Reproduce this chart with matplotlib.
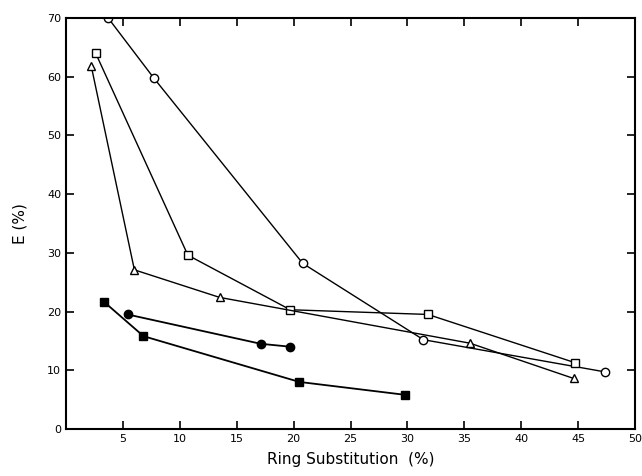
import numpy as np
import matplotlib.pyplot as plt

# open circles
x_oc = [3.7, 7.7, 20.8, 31.4, 47.4]
y_oc = [70.0, 59.8, 28.2, 15.2, 9.7]
# open squares
x_os = [2.6, 10.7, 19.7, 31.8, 44.7]
y_os = [64.0, 29.6, 20.3, 19.5, 11.3]
# open triangles
x_ot = [2.2, 6.0, 13.5, 35.5, 44.6]
y_ot = [61.9, 27.1, 22.4, 14.6, 8.6]
# filled circles
x_fc = [5.4, 17.1, 19.7]
y_fc = [19.5, 14.5, 14.0]
# filled squares
x_fs = [3.3, 6.8, 20.5, 29.8]
y_fs = [21.7, 15.8, 8.0, 5.8]

fig = plt.figure(figsize=(6.42, 4.76), dpi=100)
ax = fig.add_axes([0.103, 0.099, 0.886, 0.863])

ax.plot(x_oc, y_oc, 'k-', marker='o', mfc='white', mec='k', ms=6, lw=1)
ax.plot(x_os, y_os, 'k-', marker='s', mfc='white', mec='k', ms=5.5, lw=1)
ax.plot(x_ot, y_ot, 'k-', marker='^', mfc='white', mec='k', ms=6, lw=1)
ax.plot(x_fc, y_fc, 'k-', marker='o', mfc='k', mec='k', ms=6, lw=1.3)
ax.plot(x_fs, y_fs, 'k-', marker='s', mfc='k', mec='k', ms=6, lw=1.3)

ax.set_xlim(0, 50)
ax.set_ylim(0, 70)
ax.set_xticks(np.arange(5, 51, 5))
ax.set_yticks(np.arange(0, 71, 10))
ax.tick_params(direction='in', top=True, right=True, length=6, width=1.2, labelsize=8)
for s in ax.spines.values():
    s.set_linewidth(1.5)

ax.set_xlabel('Ring Substitution  (%)', fontsize=11, labelpad=6)
ax.set_ylabel('E (%)', fontsize=11, labelpad=14)

plt.savefig('out.png')
